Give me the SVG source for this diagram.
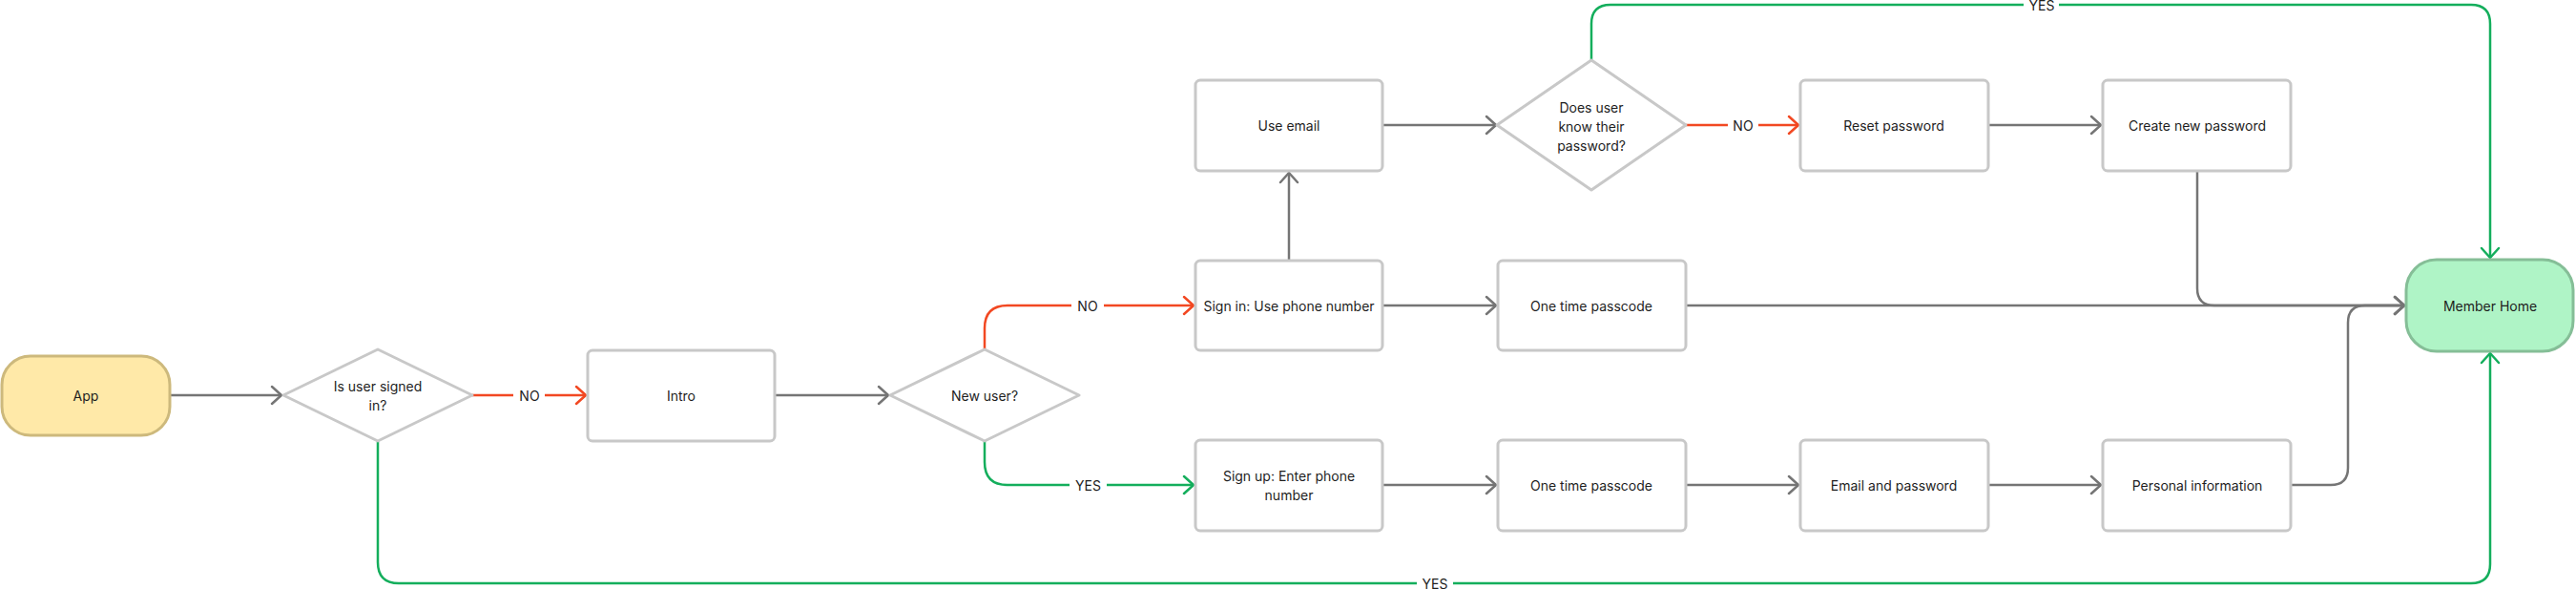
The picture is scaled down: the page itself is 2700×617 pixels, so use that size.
<svg xmlns="http://www.w3.org/2000/svg" width="2700" height="617" viewBox="0 0 2700 617">
  <style>
    .box { fill: #ffffff; stroke: #c8c8c8; stroke-width: 3; }
    .dia { fill: #ffffff; stroke: #c8c8c8; stroke-width: 3; stroke-linejoin: round; }
    .t { font-family: Inter, "Noto Sans", "Liberation Sans", sans-serif; font-size: 14px; fill: #1e1e1e; text-anchor: middle; dominant-baseline: central; }
    .c { fill: none; stroke-width: 2.5; }
    .g { stroke: #757575; }
    .r { stroke: #F24822; }
    .y { stroke: #14AE5C; }
    .lbl { fill: #ffffff; }
  </style>
  <defs>
    <marker id="ag" markerUnits="userSpaceOnUse" markerWidth="24" markerHeight="24" viewBox="-12 -12 24 24" refX="0" refY="0" orient="auto">
      <path d="M-10,-9 L0,0 L-10,9" fill="none" stroke="#757575" stroke-width="2.5" stroke-linecap="round" stroke-linejoin="round"/>
    </marker>
    <marker id="ar" markerUnits="userSpaceOnUse" markerWidth="24" markerHeight="24" viewBox="-12 -12 24 24" refX="0" refY="0" orient="auto">
      <path d="M-10,-9 L0,0 L-10,9" fill="none" stroke="#F24822" stroke-width="2.5" stroke-linecap="round" stroke-linejoin="round"/>
    </marker>
    <marker id="ay" markerUnits="userSpaceOnUse" markerWidth="24" markerHeight="24" viewBox="-12 -12 24 24" refX="0" refY="0" orient="auto">
      <path d="M-10,-9 L0,0 L-10,9" fill="none" stroke="#14AE5C" stroke-width="2.5" stroke-linecap="round" stroke-linejoin="round"/>
    </marker>
  </defs>

  <g id="connectors">
    <path class="c g" d="M178,414 H295" marker-end="url(#ag)"/>
    <path class="c r" d="M495,414 H614" marker-end="url(#ar)"/>
    <path class="c g" d="M812,414 H931" marker-end="url(#ag)"/>
    <path class="c r" d="M1032,366 V344 Q1032,320 1056,320 H1251" marker-end="url(#ar)"/>
    <path class="c y" d="M1032,462 V484 Q1032,508 1056,508 H1251" marker-end="url(#ay)"/>
    <path class="c g" d="M1351,273 V181" marker-end="url(#ag)"/>
    <path class="c g" d="M1449,131 H1568" marker-end="url(#ag)"/>
    <path class="c r" d="M1767,131 H1885" marker-end="url(#ar)"/>
    <path class="c y" d="M1668,63 V25 Q1668,5 1688,5 H2590 Q2610,5 2610,25 V270" marker-end="url(#ay)"/>
    <path class="c g" d="M2084,131 H2202" marker-end="url(#ag)"/>
    <path class="c g" d="M2303,179 V302 Q2303,320 2321,320 H2520" marker-end="url(#ag)"/>
    <path class="c g" d="M1449,320 H1568" marker-end="url(#ag)"/>
    <path class="c g" d="M1767,320 H2520" marker-end="url(#ag)"/>
    <path class="c g" d="M1449,508 H1568" marker-end="url(#ag)"/>
    <path class="c g" d="M1767,508 H1885" marker-end="url(#ag)"/>
    <path class="c g" d="M2084,508 H2202" marker-end="url(#ag)"/>
    <path class="c g" d="M2401,508 H2443 Q2461,508 2461,490 V338 Q2461,320 2479,320 H2520" marker-end="url(#ag)"/>
    <path class="c y" d="M396,462 V589 Q396,611 418,611 H2590 Q2610,611 2610,591 V370" marker-end="url(#ay)"/>

    <rect class="lbl" x="538" y="404" width="33" height="20"/>
    <text class="t" x="555" y="414">NO</text>
    <rect class="lbl" x="1123" y="310" width="34" height="20"/>
    <text class="t" x="1140" y="320">NO</text>
    <rect class="lbl" x="1121" y="498" width="39" height="20"/>
    <text class="t" x="1140.5" y="508">YES</text>
    <rect class="lbl" x="1811" y="121" width="32" height="20"/>
    <text class="t" x="1827" y="131">NO</text>
    <rect class="lbl" x="2121" y="0" width="37" height="14"/>
    <text class="t" x="2140" y="5">YES</text>
    <rect class="lbl" x="1485" y="601" width="38" height="16"/>
    <text class="t" x="1504" y="611">YES</text>
  </g>

  <g id="app">
    <rect x="2" y="373" width="176" height="83" rx="30" fill="#FFE9A8" stroke="#CDB97C" stroke-width="3"/>
    <text class="t" x="90" y="414.5">App</text>
  </g>
  <g id="signed-in">
    <polygon class="dia" points="396,366 495,414 396,462 297,414"/>
    <text class="t" x="396" y="404.5">Is user signed</text>
    <text class="t" x="396" y="424.5">in?</text>
  </g>
  <g id="intro">
    <rect class="box" x="616" y="367" width="196" height="95" rx="5"/>
    <text class="t" x="714" y="414.5">Intro</text>
  </g>
  <g id="new-user">
    <polygon class="dia" points="1032,366 1131,414 1032,462 933,414"/>
    <text class="t" x="1032" y="414.5">New user?</text>
  </g>
  <g id="sign-in">
    <rect class="box" x="1253" y="273" width="196" height="94" rx="5"/>
    <text class="t" x="1351" y="320.5">Sign in: Use phone number</text>
  </g>
  <g id="sign-up">
    <rect class="box" x="1253" y="461" width="196" height="95" rx="5"/>
    <text class="t" x="1351" y="498.5">Sign up: Enter phone</text>
    <text class="t" x="1351" y="518.5">number</text>
  </g>
  <g id="use-email">
    <rect class="box" x="1253" y="84" width="196" height="95" rx="5"/>
    <text class="t" x="1351" y="131.5">Use email</text>
  </g>
  <g id="know-password">
    <polygon class="dia" points="1668,63 1767,131 1668,199 1569,131"/>
    <text class="t" x="1668" y="112">Does user</text>
    <text class="t" x="1668" y="132">know their</text>
    <text class="t" x="1668" y="152">password?</text>
  </g>
  <g id="otp-sign-in">
    <rect class="box" x="1570" y="273" width="197" height="94" rx="5"/>
    <text class="t" x="1668" y="320.5">One time passcode</text>
  </g>
  <g id="otp-sign-up">
    <rect class="box" x="1570" y="461" width="197" height="95" rx="5"/>
    <text class="t" x="1668" y="508.5">One time passcode</text>
  </g>
  <g id="reset-password">
    <rect class="box" x="1887" y="84" width="197" height="95" rx="5"/>
    <text class="t" x="1985" y="131.5">Reset password</text>
  </g>
  <g id="email-password">
    <rect class="box" x="1887" y="461" width="197" height="95" rx="5"/>
    <text class="t" x="1985" y="508.5">Email and password</text>
  </g>
  <g id="create-password">
    <rect class="box" x="2204" y="84" width="197" height="95" rx="5"/>
    <text class="t" x="2303" y="131.5">Create new password</text>
  </g>
  <g id="personal-info">
    <rect class="box" x="2204" y="461" width="197" height="95" rx="5"/>
    <text class="t" x="2303" y="508.5">Personal information</text>
  </g>
  <g id="member-home">
    <rect x="2522" y="272" width="175" height="96" rx="32" fill="#AFF4C6" stroke="#85BE97" stroke-width="3"/>
    <text class="t" x="2610" y="320.5">Member Home</text>
  </g>
</svg>
